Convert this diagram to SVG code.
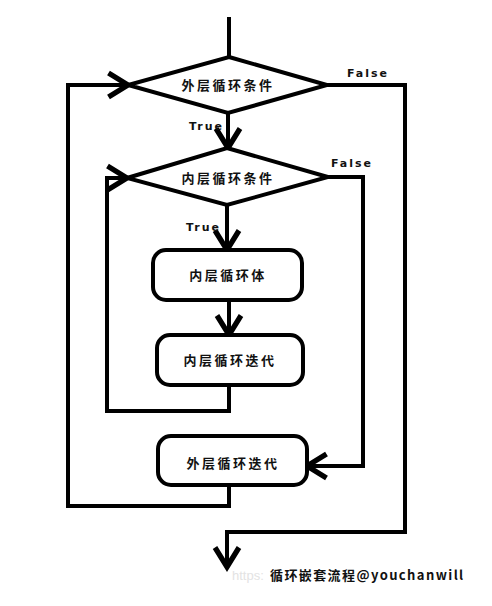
<svg xmlns="http://www.w3.org/2000/svg" width="492" height="606" viewBox="0 0 492 606">
<style>
.shape{fill:#fff;stroke:#000;stroke-width:4;stroke-linejoin:miter}
.box{fill:#fff;stroke:#000;stroke-width:4}
.conn{fill:none;stroke:#000;stroke-width:4;stroke-linejoin:miter}
.lbl{font-family:"Noto Sans CJK SC","Noto Sans",sans-serif;font-weight:bold;font-size:13px;letter-spacing:2.5px;fill:#111;text-anchor:middle;dominant-baseline:central}
.tf{font-family:"DejaVu Sans",sans-serif;font-weight:bold;font-size:11px;letter-spacing:2px;fill:#111}
.wm{font-family:"Liberation Sans",sans-serif;font-size:13px;fill:#e3e3e3}
.sig{font-family:"Noto Sans CJK SC","DejaVu Sans",sans-serif;font-weight:bold;font-size:13px;letter-spacing:1.4px;fill:#111}
</style>
<defs>
<marker id="arr" markerUnits="userSpaceOnUse" markerWidth="30" markerHeight="30" refX="0" refY="0" viewBox="-16 -10 20 20" orient="auto" overflow="visible">
<path d="M-13,-8 L0,0 L-13,8" fill="none" stroke="#000" stroke-width="3.5"/>
</marker>
</defs>
<rect width="492" height="606" fill="#fff"/>
<g id="connectors">
<line class="conn" x1="229" y1="17" x2="229" y2="57"/>
<line class="conn" x1="228" y1="113" x2="228" y2="148" marker-end="url(#arr)"/>
<line class="conn" x1="227" y1="205" x2="227" y2="250" marker-end="url(#arr)"/>
<line class="conn" x1="229" y1="300" x2="229" y2="335" marker-end="url(#arr)"/>
<polyline class="conn" points="229,385 229,411 107,411 107,178 127,178" marker-end="url(#arr)"/>
<polyline class="conn" points="328,177 363,177 363,466 307,466" marker-end="url(#arr)"/>
<polyline class="conn" points="229,485 229,506 68,506 68,85 128,85" marker-end="url(#arr)"/>
<polyline class="conn" points="327,85 405,85 405,532 227,532 227,567" marker-end="url(#arr)"/>
</g>
<g id="outer-cond">
<polygon class="shape" points="229,57 327,85 228,113 128,85"/>
<text class="lbl" x="228" y="84">外层循环条件</text>
</g>
<g id="inner-cond">
<polygon class="shape" points="227,148 328,177 227,205 127,178"/>
<text class="lbl" x="228" y="177">内层循环条件</text>
</g>
<g id="inner-body">
<rect class="box" x="153" y="250" width="149" height="50" rx="13"/>
<text class="lbl" x="228" y="274">内层循环体</text>
</g>
<g id="inner-iter">
<rect class="box" x="157" y="335" width="146" height="50" rx="13"/>
<text class="lbl" x="230" y="359">内层循环迭代</text>
</g>
<g id="outer-iter">
<rect class="box" x="158" y="436" width="149" height="49" rx="13"/>
<text class="lbl" x="233" y="462">外层循环迭代</text>
</g>
<g id="labels">
<text class="tf" x="347" y="77">False</text>
<text class="tf" x="189" y="130">True</text>
<text class="tf" x="331" y="167">False</text>
<text class="tf" x="186" y="231">True</text>
</g>
<text class="wm" x="232" y="580">https:</text>
<text class="sig" x="270" y="580">循环嵌套流程@youchanwill</text>
</svg>
